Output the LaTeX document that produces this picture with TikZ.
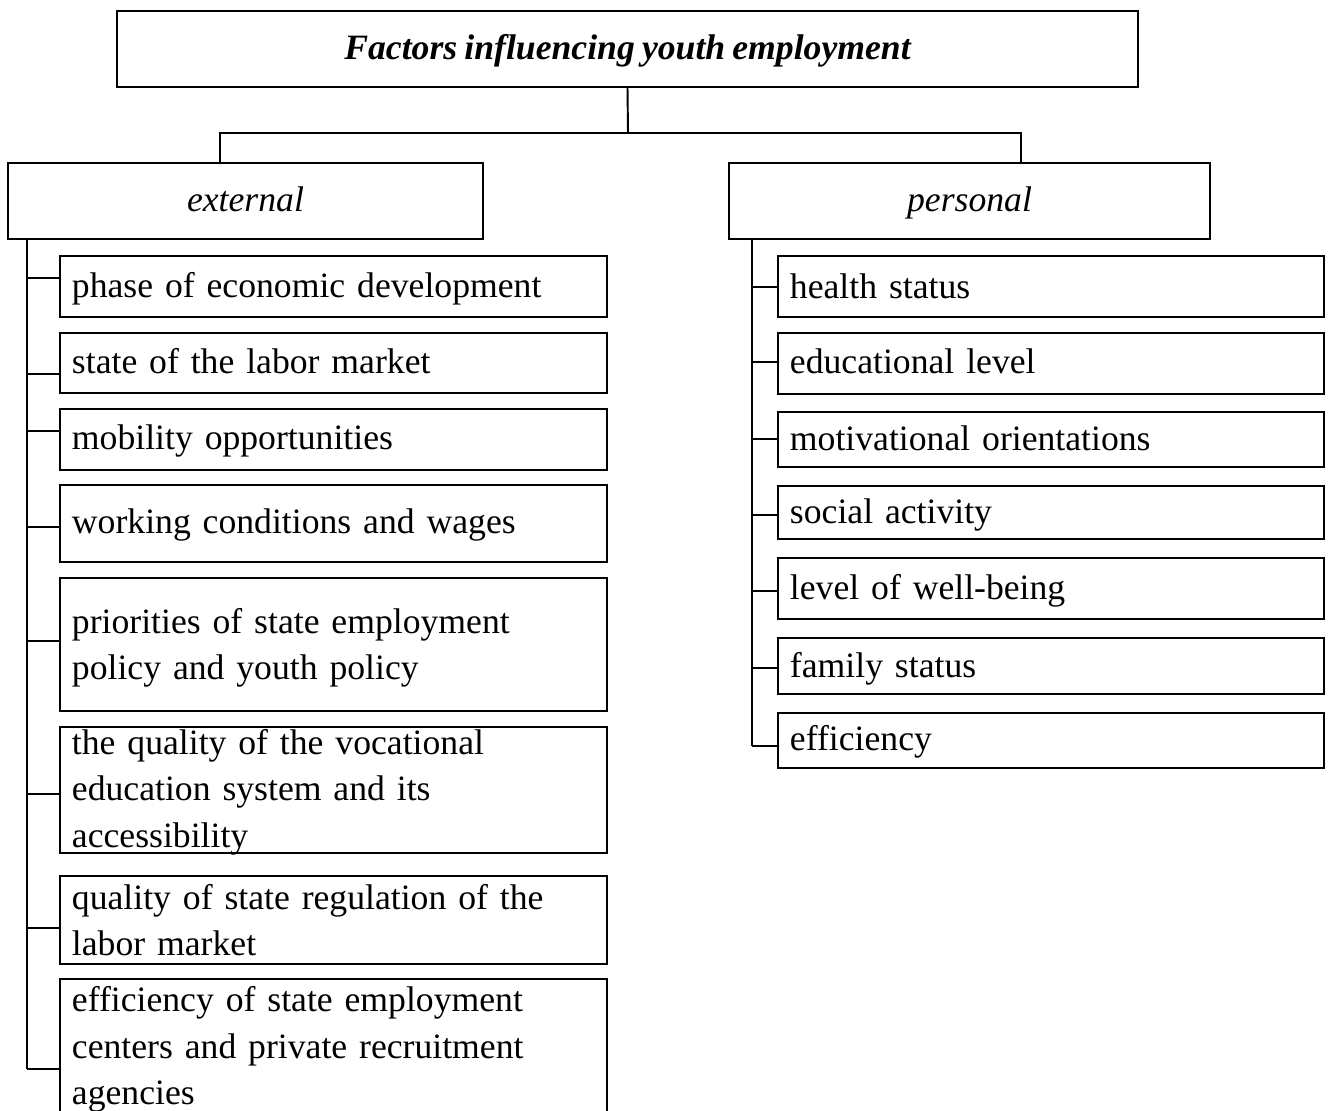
\documentclass[tikz,border=0pt]{standalone}
\usepackage{fontspec}
\setmainfont[WordSpace=0.8]{Liberation Serif}
\newcommand{\diagfont}{\fontsize{20.3}{26.2}\selectfont}

\begin{document}
\begin{tikzpicture}[
  x=0.02cm, y=-0.02cm,
  box/.style={rectangle, draw, line width=1.1pt, inner ysep=0pt, font=\diagfont},
  head/.style={box, font=\diagfont\bfseries\itshape, minimum width=1021*0.02cm, text height=0.98cm, text depth=0.54cm},
  group/.style={box, font=\diagfont\itshape, text height=0.98cm, text depth=0.54cm},
  item/.style={box, anchor=north west, align=left, inner xsep=0.24cm, text width=10.46cm},
  link/.style={line width=1.1pt}
]
\useasboundingbox (0,0) rectangle (1328,1111);

% Top node
\node[head] (title) at (627.5,49) {Factors influencing youth employment};

% Two groups
\node[group, minimum width=475*0.02cm] (ext) at (245.5,201) {external};
\node[group, minimum width=481*0.02cm] (pers) at (969.5,201) {personal};

\coordinate (fork) at (628,133);
\draw[link] (title.south) -- (fork);
\draw[link] (ext.north -| 220,0) |- (fork) -| (pers.north -| 1021,0);

% External factors
\node[item, text height=0.84cm, text depth=0.38cm] (L1) at (59,255) {phase of economic development};
\node[item, text height=0.82cm, text depth=0.38cm] (L2) at (59,332) {state of the labor market};
\node[item, text height=0.82cm, text depth=0.40cm] (L3) at (59,408) {mobility opportunities};
\node[item, text height=0.98cm, text depth=0.56cm] (L4) at (59,484) {working conditions and wages};
\node[item, text height=1.12cm, text depth=1.54cm] (L5) at (59,577) {priorities of state employment\\policy and youth policy};
\node[item, text height=0.56cm, text depth=1.96cm] (L6) at (59,726) {the quality of the vocational\\education system and its\\accessibility};
\node[item, text height=0.68cm, text depth=1.08cm] (L7) at (59,875) {quality of state regulation of the\\labor market};
\node[item, text height=0.66cm, text depth=2.10cm] (L8) at (59,978) {efficiency of state employment\\centers and private recruitment\\agencies};

% Personal factors
\node[item, text width=10.44cm, text height=0.86cm, text depth=0.36cm] (R1) at (777,255) {health status};
\node[item, text width=10.44cm, text height=0.82cm, text depth=0.40cm] (R2) at (777,332) {educational level};
\node[item, text width=10.44cm, text height=0.78cm, text depth=0.32cm] (R3) at (777,411) {motivational orientations};
\node[item, text width=10.44cm, text height=0.76cm, text depth=0.30cm] (R4) at (777,485) {social activity};
\node[item, text width=10.44cm, text height=0.84cm, text depth=0.38cm] (R5) at (777,557) {level of well-being};
\node[item, text width=10.44cm, text height=0.80cm, text depth=0.32cm] (R6) at (777,637) {family status};
\node[item, text width=10.44cm, text height=0.76cm, text depth=0.34cm] (R7) at (777,712) {efficiency};

% Left spine and ticks
\draw[link] (ext.south -| 27,0) -- (27,1069);
\draw[link] (27,278) -- (L1.west |- 0,278);
\draw[link] (27,374) -- (L2.west |- 0,374);
\draw[link] (27,431) -- (L3.west |- 0,431);
\draw[link] (27,527) -- (L4.west |- 0,527);
\draw[link] (27,641) -- (L5.west |- 0,641);
\draw[link] (27,794) -- (L6.west |- 0,794);
\draw[link] (27,928) -- (L7.west |- 0,928);
\draw[link] (27,1069) -- (L8.west |- 0,1069);

% Right spine and ticks
\draw[link] (pers.south -| 752,0) -- (752,746);
\draw[link] (752,287) -- (R1.west |- 0,287);
\draw[link] (752,362) -- (R2.west |- 0,362);
\draw[link] (752,439) -- (R3.west |- 0,439);
\draw[link] (752,515) -- (R4.west |- 0,515);
\draw[link] (752,591) -- (R5.west |- 0,591);
\draw[link] (752,668) -- (R6.west |- 0,668);
\draw[link] (752,746) -- (R7.west |- 0,746);

\end{tikzpicture}
\end{document}
